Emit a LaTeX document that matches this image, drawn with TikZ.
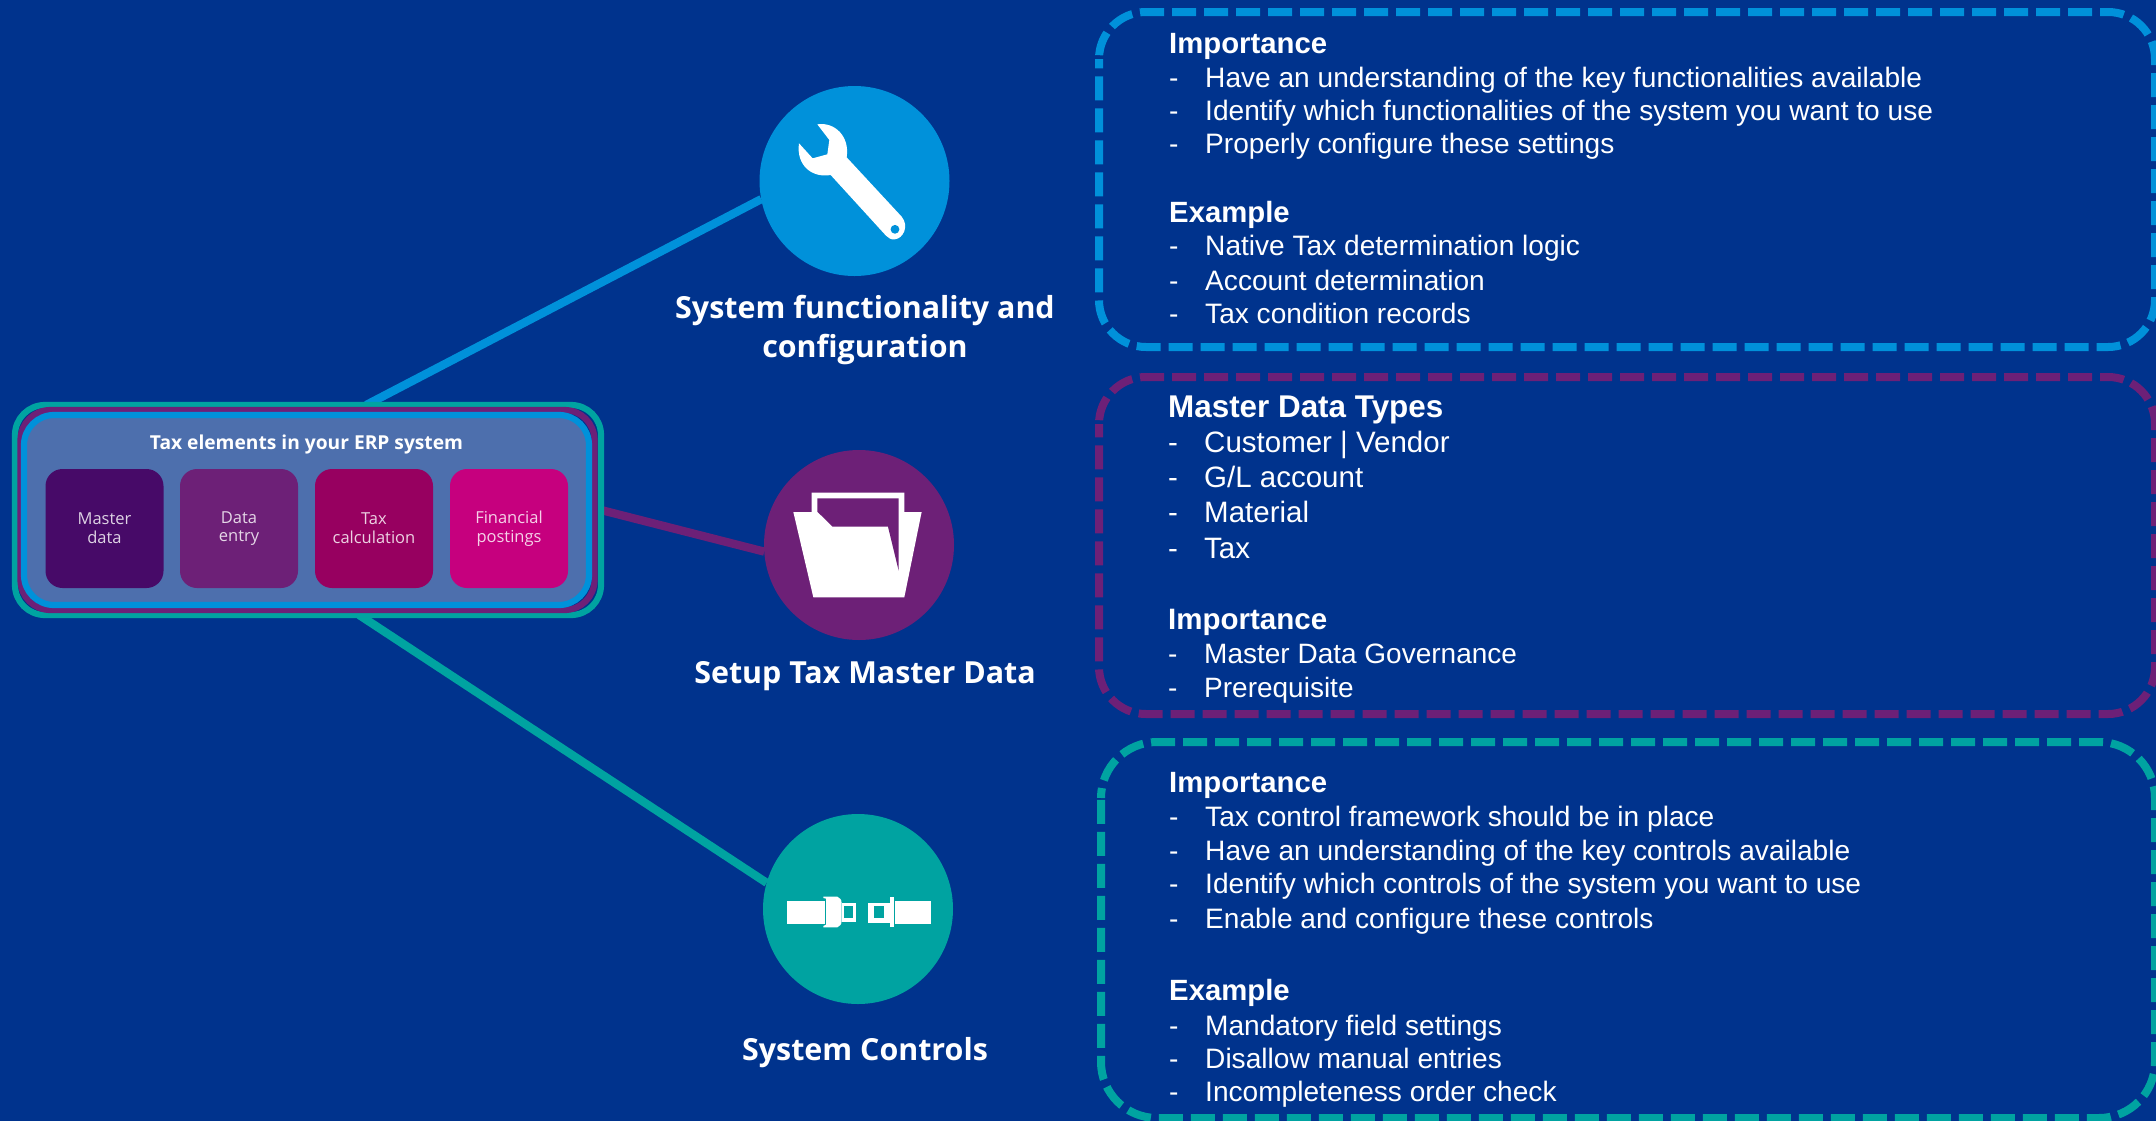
\documentclass[tikz,border=0pt]{standalone}
\usepackage{fontspec}
\setmainfont{Liberation Sans}
\newfontfamily\labelfont{Open Sans}
\definecolor{bgblue}{HTML}{00338D}
\definecolor{kblue}{HTML}{0091DA}
\definecolor{kpurple}{HTML}{6D2077}
\definecolor{kteal}{HTML}{00A3A1}
\definecolor{tileA}{HTML}{470A68}
\definecolor{tileC}{HTML}{970060}
\definecolor{tileD}{HTML}{C6007E}
\definecolor{erpfill}{HTML}{4D6FAD}
\pgfdeclarelayer{paper}
\pgfdeclarelayer{wires}
\pgfsetlayers{paper,wires,main}
\tikzset{
  frame/.style={draw=#1,line width=6.2pt,rounded corners=30pt,inner sep=0pt,outer sep=0pt},
  boxarea/.style={inner sep=0pt,outer sep=0pt},
  dashline/.style={draw=#1,line width=8pt,dash pattern=on 24pt off 8pt},
  tile/.style={fill=#1,rounded corners=17pt,minimum width=118pt,minimum height=119pt,inner sep=0pt,
    text=white!82!#1,align=center,font=\labelfont\fontsize{16.5}{20.6}\selectfont},
  disc/.style={circle,fill=#1,minimum size=190pt,inner sep=0pt,outer sep=0pt},
  wire/.style={draw=#1,line width=8.3pt},
  heading/.style={text=white,font=\labelfont\bfseries\fontsize{30.4}{38.5}\selectfont,align=center},
  ltext/.style={text=white,anchor=base west,inner sep=0pt,font=\fontsize{28.1}{34}\selectfont},
  btext/.style={text=white,anchor=base west,inner sep=0pt,font=\bfseries\fontsize{29.3}{34}\selectfont},
  lltext/.style={text=white,anchor=base west,inner sep=0pt,font=\fontsize{29.5}{34}\selectfont},
  mltext/.style={text=white,anchor=base west,inner sep=0pt,font=\fontsize{28}{34}\selectfont},
  bltext/.style={text=white,anchor=base west,inner sep=0pt,font=\bfseries\fontsize{29.5}{34}\selectfont},
  hltext/.style={text=white,anchor=base west,inner sep=0pt,font=\bfseries\fontsize{31.4}{34}\selectfont},
}
\newcommand{\linerow}[4]{%
  \node[#1] (dash#3) at (#2,#3+0.6) {-};
  \node[#1] (text#3) at (#2+36,#3+0.6) {#4};
}
\begin{document}
\begin{tikzpicture}[x=1pt,y=-1pt]
\useasboundingbox (0,0) rectangle (2156,1120);
\begin{pgfonlayer}{paper}
\fill[bgblue] (-3,-3) rectangle (2159,1123);
\end{pgfonlayer}

% ERP panel
\node[frame=kteal,minimum width=586pt,minimum height=210pt] (erp) at (308,510) {};
\node[frame=kpurple,minimum width=574pt,minimum height=200pt] (erpmid) at (307.5,510) {};
\node[frame=kblue,fill=erpfill,minimum width=565pt,minimum height=190pt] (erpin) at (306.5,510) {};
\node[text=white,font=\labelfont\bfseries\fontsize{19.2}{24}\selectfont] (erptitle) at (306.5,445) {Tax elements in your ERP system};
\node[tile=tileA] (t1) at (104.5,528.5) {\raisebox{-3pt}{\shortstack{Master\\[3.6pt]data}}};
\node[tile=kpurple] (t2) at (239,528.5) {\raisebox{-3pt}{\shortstack{Data\\[3.6pt]entry}}};
\node[tile=tileC] (t3) at (374,528.5) {\raisebox{-3pt}{\shortstack{Tax\\[3.6pt]calculation}}};
\node[tile=tileD] (t4) at (509,528.5) {\raisebox{-3pt}{\shortstack{Financial\\[3.6pt]postings}}};

% Discs
\node[disc=kblue] (wrenchdisc) at (854.5,181) {};
\node[disc=kpurple] (folderdisc) at (859,545) {};
\node[disc=kteal] (beltdisc) at (858,909) {};

% Connectors
\begin{pgfonlayer}{wires}
\draw[wire=kblue] (erp.61) -- (wrenchdisc.191.5);
\draw[wire=kpurple] (erp.-0.6) -- (folderdisc.184);
\draw[wire=kteal] (erp.-64.3) -- (beltdisc.164);
\end{pgfonlayer}

% Wrench icon
\begin{scope}[shift={(740,70)},x=0.3333pt,y=-0.3333pt]
\fill[white] (232,163) .. controls (285,155) and (330,200) .. (320,262) -- (485,440)
  .. controls (508,468) and (490,505) .. (465,508) .. controls (452,510) and (445,503) .. (438,497)
  -- (272,315) .. controls (215,325) and (168,285) .. (177,220) -- (218,265) -- (262,253) -- (268,210) -- cycle;
\fill[kblue] (465,478) circle[radius=4.4pt];
\end{scope}

% Folder icon
\begin{scope}[shift={(750,440)},x=0.3333pt,y=-0.3333pt]
\fill[white] (130,216) -- (185,216) -- (185,158) -- (463,158) -- (463,216) -- (515,216)
  -- (463,472) -- (190,472) -- cycle;
\fill[kpurple] (202,175) -- (446,175) -- (446,392) -- (414,260) -- (248,260) -- (202,215) -- cycle;
\end{scope}

% Belt icon
\begin{scope}[shift={(750,800)},x=0.3333pt,y=-0.3333pt]
\fill[white] (111,303) rectangle (225,372);
\fill[white] (220,290) -- (262,290) .. controls (270,292) and (275,300) .. (275,310) -- (275,362)
  .. controls (275,372) and (270,380) .. (262,382) -- (220,382) -- (220,378) -- (228,374) -- (228,296) -- (220,294) -- cycle;
\fill[white] (275,309) rectangle (318,365);
\fill[kteal] (281,318) rectangle (308,355);
\fill[white] (355,309) rectangle (421,370);
\fill[kteal] (372,318) rectangle (402,354);
\fill[white] (421,291) rectangle (432,382);
\fill[white] (436,303) rectangle (544,372);
\end{scope}

% Headings
\node[heading] (h1) at (865,330) {System functionality and\\configuration};
\node[heading] (h2) at (865,676) {Setup Tax Master Data};
\node[heading] (h3) at (865,1053) {System Controls};

% Dashed boxes
\node[boxarea,minimum width=1056pt,minimum height=335pt] (box1) at (1627,179.5) {};
\node[boxarea,minimum width=1056pt,minimum height=337pt] (box2) at (1627,545.5) {};
\node[boxarea,minimum width=1054pt,minimum height=376pt] (box3) at (1628,930) {};
\draw[dashline=kblue,rounded corners=47pt,dash phase=28.2pt]
  ([yshift=-47pt]box1.north west) |- (box1.north east) |- (box1.south west) -- ([yshift=-47pt]box1.north west);
\draw[dashline=kpurple,rounded corners=47pt,dash phase=28.2pt]
  ([yshift=-47pt]box2.north west) |- (box2.north east) |- (box2.south west) -- ([yshift=-47pt]box2.north west);
\draw[dashline=kteal,rounded corners=56pt,dash phase=14pt]
  ([yshift=-56pt]box3.north west) |- (box3.north east) |- (box3.south west) -- ([yshift=-56pt]box3.north west);

% Box 1 text
\node[btext] (b1a) at (1169,53) {Importance};
\linerow{ltext}{1169}{87}{Have an understanding of the key functionalities available}
\linerow{ltext}{1169}{120}{Identify which functionalities of the system you want to use}
\linerow{ltext}{1169}{153}{Properly configure these settings}
\node[btext] (b1b) at (1169,222) {Example};
\linerow{ltext}{1169}{255}{Native Tax determination logic}
\linerow{ltext}{1169}{290}{Account determination}
\linerow{ltext}{1169}{323}{Tax condition records}

% Box 2 text
\node[hltext] (b2a) at (1168,417) {Master Data Types};
\linerow{lltext}{1168}{452}{Customer | Vendor}
\linerow{lltext}{1168}{487}{G/L account}
\linerow{lltext}{1168}{522}{Material}
\linerow{lltext}{1168}{558}{Tax}
\node[bltext] (b2b) at (1168,629) {Importance};
\linerow{mltext}{1168}{663}{Master Data Governance}
\linerow{mltext}{1168}{697}{Prerequisite}

% Box 3 text
\node[btext] (b3a) at (1169,792) {Importance};
\linerow{ltext}{1169}{826}{Tax control framework should be in place}
\linerow{ltext}{1169}{860}{Have an understanding of the key controls available}
\linerow{ltext}{1169}{893}{Identify which controls of the system you want to use}
\linerow{ltext}{1169}{928}{Enable and configure these controls}
\node[btext] (b3b) at (1169,1000) {Example};
\linerow{ltext}{1169}{1035}{Mandatory field settings}
\linerow{ltext}{1169}{1068}{Disallow manual entries}
\linerow{ltext}{1169}{1101}{Incompleteness order check}
\end{tikzpicture}
\end{document}
